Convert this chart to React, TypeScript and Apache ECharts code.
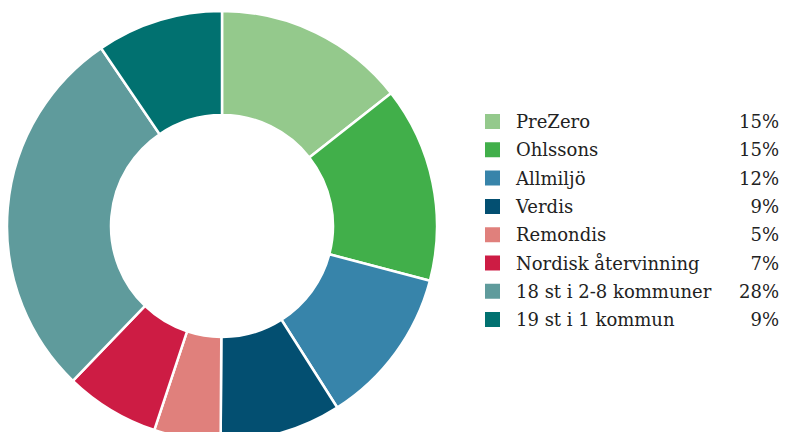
import React, { useEffect, useRef } from "react";
import * as echarts from "echarts";

const names = [
  "PreZero",
  "Ohlssons",
  "Allmiljö",
  "Verdis",
  "Remondis",
  "Nordisk återvinning",
  "18 st i 2-8 kommuner",
  "19 st i 1 kommun",
];
const values = [14.4, 14.7, 11.9, 9.1, 5.0, 7.1, 28.3, 9.5];
const legendPercents = ["15%", "15%", "12%", "9%", "5%", "7%", "28%", "9%"];
const colors = [
  "#94c98c",
  "#41af4a",
  "#3784aa",
  "#034f71",
  "#e0807c",
  "#cd1c44",
  "#5f9b9c",
  "#017170",
];

export default function App() {
  const ref = useRef<HTMLDivElement>(null);
  useEffect(() => {
    document.body.style.margin = "0";
    const chart = echarts.init(ref.current!, null, { renderer: "svg" });
    const fontFamily = "'DejaVu Serif', serif";
    chart.setOption({
      animation: false,
      color: colors,
      legend: {
        orient: "vertical",
        left: 483,
        top: 112,
        padding: 0,
        itemWidth: 17,
        itemHeight: 17,
        itemGap: 9.3,
        icon: "rect",
        selectedMode: false,
        data: names,
        formatter: (name: string) => {
          const i = names.indexOf(name);
          return `{n|${name}}{p|${legendPercents[i]}}`;
        },
        textStyle: {
          fontFamily,
          color: "#222",
          lineHeight: 17,
          rich: {
            n: { fontFamily, fontSize: 18, lineHeight: 17, color: "#222", width: 223, padding: [0, 0, 0, 10] },
            p: { fontFamily, fontSize: 18, lineHeight: 17, color: "#222", width: 40, align: "right" },
          },
        },
      },
      series: [
        {
          type: "pie",
          center: [222, 226],
          radius: [111, 215],
          startAngle: 90,
          clockwise: true,
          label: { show: false },
          labelLine: { show: false },
          emphasis: { disabled: true },
          itemStyle: { borderColor: "#fff", borderWidth: 2.5 },
          data: names.map((n, i) => ({ name: n, value: values[i] })),
        },
      ],
    });
    return () => chart.dispose();
  }, []);
  return <div ref={ref} style={{ width: 785, height: 432 }} />;
}
